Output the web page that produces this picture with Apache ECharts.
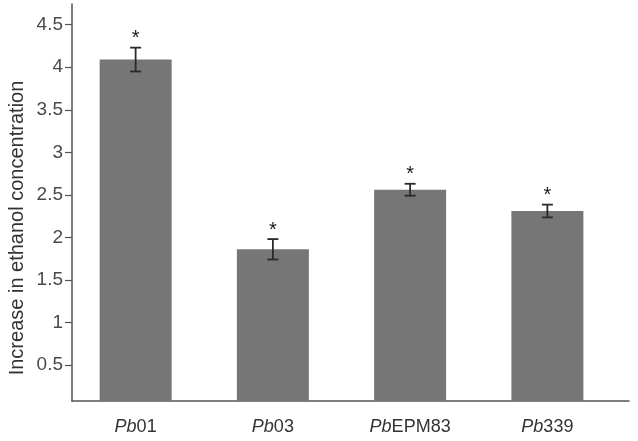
<!DOCTYPE html>
<html>
<head>
<meta charset="utf-8">
<script src="https://cdn.jsdelivr.net/npm/echarts@6.0.0/dist/echarts.min.js"></script>
<style>html,body{margin:0;padding:0;background:#fff}#c{width:638px;height:441px}</style>
</head>
<body>
<div id="c"></div>
<script>
var categories = ['Pb01', 'Pb03', 'PbEPM83', 'Pb339'];
var values = [4.09, 1.86, 2.56, 2.31];
var errors = [0.14, 0.12, 0.07, 0.075];
var yTicks = [0.5, 1, 1.5, 2, 2.5, 3, 3.5, 4, 4.5];
var yTickLabels = ['0.5', '1', '1.5', '2', '2.5', '3', '3.5', '4', '4.5'];
var yTitle = 'Increase in ethanol concentration';
var yMin = 0.077, yMax = 4.743;

var chart = echarts.init(document.getElementById('c'), null, {renderer: 'canvas'});
var font = '"Liberation Sans", Arial, sans-serif';
var errData = categories.map(function (c, i) {
  return [i, values[i] - errors[i], values[i] + errors[i]];
});

chart.setOption({
  animation: false,
  backgroundColor: '#fff',
  grid: [
    {left: 67, right: 22, top: 4, bottom: 40},
    {left: 72, right: 9, top: 4, bottom: 40}
  ],
  xAxis: [
    {
      type: 'category', gridIndex: 0, data: categories,
      axisLine: {show: false}, axisTick: {show: false},
      axisLabel: {
        margin: 17,
        formatter: function (v) { return '{i|' + v.slice(0, 2) + '}{n|' + v.slice(2) + '}'; },
        rich: {
          i: {fontStyle: 'italic', fontSize: 18, color: '#333', fontFamily: font},
          n: {fontSize: 18, color: '#333', fontFamily: font}
        }
      }
    },
    {
      type: 'value', gridIndex: 1, min: 0, max: 1,
      axisLine: {show: true, onZero: false, lineStyle: {color: '#555', width: 1.5}},
      axisTick: {show: false}, axisLabel: {show: false}, splitLine: {show: false}
    }
  ],
  yAxis: [
    {
      type: 'value', gridIndex: 0, min: yMin, max: yMax, show: false
    },
    {
      type: 'value', gridIndex: 1, min: yMin, max: yMax,
      axisLine: {show: true, lineStyle: {color: '#555', width: 1.5}},
      axisTick: {show: true, length: 7, customValues: yTicks, lineStyle: {color: '#555', width: 1.2}},
      axisLabel: {
        customValues: yTicks, margin: 9,
        formatter: function (v) {
          var idx = yTicks.indexOf(v);
          return idx >= 0 ? yTickLabels[idx] : '';
        },
        fontSize: 19, color: '#4a4a4a', fontFamily: font
      },
      splitLine: {show: false}
    }
  ],
  graphic: [{
    type: 'text', x: 17, y: 228, rotation: Math.PI / 2,
    style: {
      text: yTitle, fontSize: 20, fill: '#333', fontFamily: font,
      align: 'center', verticalAlign: 'middle'
    }
  }],
  series: [
    {
      type: 'bar', xAxisIndex: 0, yAxisIndex: 0, data: values,
      barWidth: 72, itemStyle: {color: '#767676'}
    },
    {
      type: 'custom', xAxisIndex: 0, yAxisIndex: 0, data: errData, z: 5,
      renderItem: function (params, api) {
        var lo = api.coord([api.value(0), api.value(1)]);
        var hi = api.coord([api.value(0), api.value(2)]);
        var hw = 5.5;
        var st = {stroke: '#2a2a2a', lineWidth: 1.8};
        return {
          type: 'group',
          children: [
            {type: 'line', shape: {x1: lo[0], y1: lo[1], x2: hi[0], y2: hi[1]}, style: st},
            {type: 'line', shape: {x1: lo[0] - hw, y1: lo[1], x2: lo[0] + hw, y2: lo[1]}, style: st},
            {type: 'line', shape: {x1: hi[0] - hw, y1: hi[1], x2: hi[0] + hw, y2: hi[1]}, style: st},
            {type: 'text', x: hi[0], y: hi[1] + 1,
              style: {text: '*', fontSize: 20, fill: '#1a1a1a', fontFamily: font, align: 'center', verticalAlign: 'bottom'}}
          ]
        };
      }
    }
  ]
});
</script>
</body>
</html>
